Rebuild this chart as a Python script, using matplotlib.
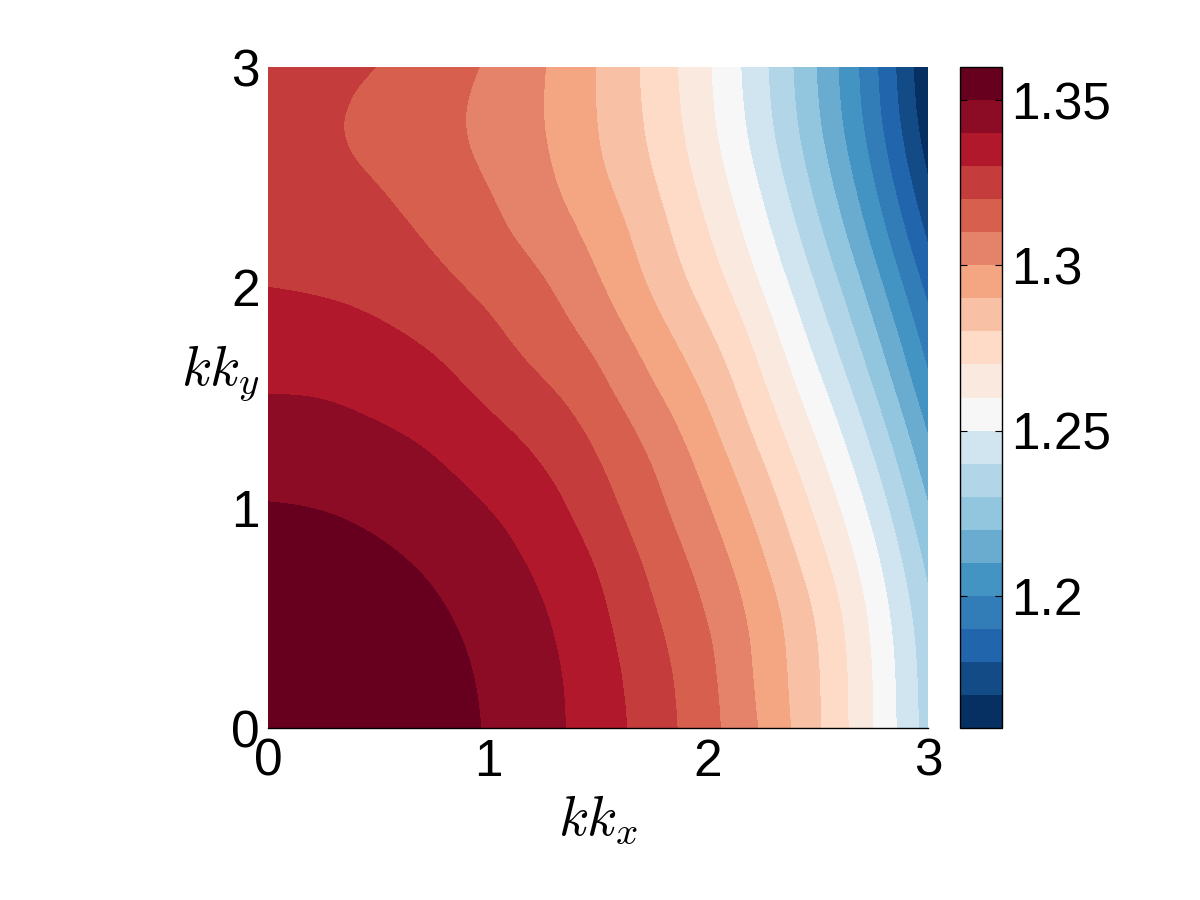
import numpy as np
import matplotlib
matplotlib.use("Agg")
import matplotlib.pyplot as plt
import matplotlib.tri as mtri
from matplotlib.colors import ListedColormap

# grid of the map (kk_x across, kk_y up)
kx_vals = [0.0, 0.25, 0.5, 0.75, 1.0, 1.25, 1.5, 1.75, 2.0, 2.25, 2.5, 2.75, 3.0]
ky_vals = [0.0, 0.25, 0.5, 0.75, 1.0, 1.25, 1.5, 1.75, 2.0, 2.25, 2.5, 2.75, 3.0]

# values, one row per ky value
omega = [
    [1.3598, 1.3592, 1.3573, 1.3540, 1.3493, 1.3430, 1.3350, 1.3250, 1.3130, 1.2985, 1.2809, 1.2600, 1.2355],
    [1.3593, 1.3585, 1.3566, 1.3534, 1.3485, 1.3424, 1.3342, 1.3238, 1.3120, 1.2970, 1.2804, 1.2595, 1.2348],
    [1.3576, 1.3567, 1.3547, 1.3515, 1.3467, 1.3407, 1.3322, 1.3212, 1.3095, 1.2952, 1.2785, 1.2575, 1.2325],
    [1.3546, 1.3537, 1.3517, 1.3485, 1.3439, 1.3378, 1.3290, 1.3175, 1.3055, 1.2909, 1.2736, 1.2530, 1.2275],
    [1.3505, 1.3497, 1.3477, 1.3445, 1.3399, 1.3337, 1.3243, 1.3130, 1.3005, 1.2853, 1.2675, 1.2468, 1.2205],
    [1.3455, 1.3449, 1.3429, 1.3397, 1.3347, 1.3285, 1.3195, 1.3084, 1.2949, 1.2788, 1.2609, 1.2395, 1.2125],
    [1.3403, 1.3398, 1.3377, 1.3343, 1.3287, 1.3223, 1.3136, 1.3020, 1.2887, 1.2722, 1.2538, 1.2314, 1.2040],
    [1.3351, 1.3345, 1.3324, 1.3287, 1.3229, 1.3159, 1.3074, 1.2952, 1.2821, 1.2659, 1.2464, 1.2232, 1.1958],
    [1.3300, 1.3292, 1.3271, 1.3230, 1.3176, 1.3110, 1.3013, 1.2888, 1.2755, 1.2592, 1.2391, 1.2150, 1.1872],
    [1.3270, 1.3260, 1.3232, 1.3184, 1.3127, 1.3057, 1.2964, 1.2843, 1.2701, 1.2530, 1.2319, 1.2069, 1.1781],
    [1.3235, 1.3226, 1.3194, 1.3146, 1.3095, 1.3020, 1.2920, 1.2803, 1.2656, 1.2476, 1.2257, 1.1999, 1.1700],
    [1.3224, 1.3211, 1.3175, 1.3130, 1.3077, 1.3002, 1.2898, 1.2776, 1.2623, 1.2436, 1.2211, 1.1947, 1.1640],
    [1.3233, 1.3224, 1.3198, 1.3145, 1.3090, 1.3005, 1.2895, 1.2765, 1.2610, 1.2419, 1.2192, 1.1925, 1.1615],
]

levels = np.arange(1.16, 1.3601, 0.01)
cbar_ticks = [1.2, 1.25, 1.3, 1.35]
cbar_labels = ["1.2", "1.25", "1.3", "1.35"]

# 20 band colours, blue (low) to red (high)
band_colors = ["#053061", "#134b86", "#2166ac", "#327cb8", "#4393c3",
               "#6aacd0", "#92c5de", "#b2d5e7", "#d1e5f0", "#f7f7f7",
               "#fae9df", "#fddbc7", "#f8c0a4", "#f4a582", "#e5836a",
               "#d6604d", "#c43c3c", "#b2182b", "#8c0c25", "#67001f"]

plt.rcParams["font.family"] = ["Liberation Sans", "DejaVu Sans"]
plt.rcParams["mathtext.fontset"] = "cm"

fig = plt.figure(figsize=(12, 9), dpi=100)
ax = fig.add_axes([0.2233, 0.1911, 0.55, 0.7344])
cax = fig.add_axes([0.8004, 0.1911, 0.0342, 0.7344])

KX, KY = np.meshgrid(kx_vals, ky_vals)
Z = np.array(omega)
tri = mtri.Triangulation(KX.ravel(), KY.ravel())
refiner = mtri.UniformTriRefiner(tri)
tri_f, z_f = refiner.refine_field(Z.ravel(), subdiv=4)
z_f = np.clip(z_f, 1.1601, 1.3599)

cmap = ListedColormap(band_colors)
cs = ax.tricontourf(tri_f, z_f, levels=levels, cmap=cmap, vmin=1.16, vmax=1.36)

ax.set_xlim(0, 3)
ax.set_ylim(0, 3)
ax.set_xticks([0, 1, 2, 3])
ax.set_yticks([0, 1, 2, 3])
ax.tick_params(axis="both", direction="in", length=0, labelsize=37)
ax.tick_params(axis="x", pad=7)
ax.tick_params(axis="y", pad=6)
for s in ["left", "top", "right"]:
    ax.spines[s].set_visible(False)
ax.spines["bottom"].set_linewidth(1.0)

ax.set_xlabel(r"$kk_x$", fontsize=40)
ax.xaxis.set_label_coords(0.5, -0.1)
ax.set_ylabel(r"$kk_y$", fontsize=40, rotation=0, ha="right", va="center")
ax.yaxis.set_label_coords(-0.012, 0.537)

cb = fig.colorbar(cs, cax=cax, ticks=cbar_ticks)
cb.ax.set_yticklabels(cbar_labels)
cb.outline.set_linewidth(1.0)
cax.tick_params(axis="y", which="both", direction="in", left=True, right=True,
                labelleft=False, labelright=True, length=5, width=0.8,
                labelsize=37, pad=7)
cax.minorticks_off()

fig.savefig("out.png", dpi=100)
